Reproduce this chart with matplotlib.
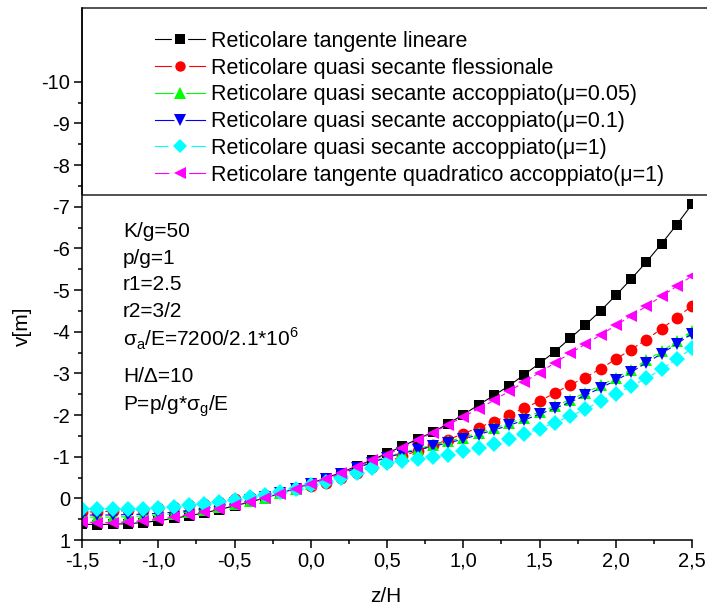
import matplotlib
matplotlib.use("Agg")
import matplotlib.pyplot as plt
from matplotlib.lines import Line2D
from matplotlib.patches import Rectangle
from matplotlib.legend_handler import HandlerTuple

plt.rcParams['font.family'] = ['Liberation Sans', 'DejaVu Sans']
plt.rcParams['axes.unicode_minus'] = False

# ascissa z/H (passo 0.1)
z = [-1.5, -1.4, -1.3, -1.2, -1.1, -1.0, -0.9, -0.8, -0.7, -0.6, -0.5,
     -0.4, -0.3, -0.2, -0.1, 0.0, 0.1, 0.2, 0.3, 0.4, 0.5,
     0.6, 0.7, 0.8, 0.9, 1.0, 1.1, 1.2, 1.3, 1.4, 1.5,
     1.6, 1.7, 1.8, 1.9, 2.0, 2.1, 2.2, 2.3, 2.4, 2.5]

tang_lineare = [0.62, 0.63, 0.62, 0.61, 0.58, 0.54, 0.48, 0.42, 0.35, 0.27, 0.18,
                0.09, -0.01, -0.12, -0.24, -0.36, -0.49, -0.62, -0.77, -0.92, -1.08,
                -1.25, -1.42, -1.59, -1.79, -2.01, -2.24, -2.47, -2.70, -2.97, -3.24,
                -3.52, -3.84, -4.16, -4.50, -4.87, -5.26, -5.67, -6.11, -6.57, -7.06]

sec_flessionale = [0.33, 0.32, 0.31, 0.29, 0.27, 0.24, 0.21, 0.17, 0.13, 0.08, 0.02,
                   -0.03, -0.08, -0.15, -0.22, -0.30, -0.38, -0.48, -0.61, -0.75, -0.87,
                   -1.01, -1.14, -1.27, -1.41, -1.55, -1.70, -1.84, -2.00, -2.17, -2.33,
                   -2.53, -2.72, -2.90, -3.11, -3.34, -3.57, -3.81, -4.07, -4.34, -4.62]

sec_acc_005 = [0.45, 0.45, 0.45, 0.44, 0.42, 0.40, 0.37, 0.32, 0.27, 0.21, 0.14,
               0.06, -0.02, -0.12, -0.22, -0.34, -0.46, -0.59, -0.73, -0.87, -1.00,
               -1.10, -1.19, -1.28, -1.37, -1.46, -1.57, -1.68, -1.80, -1.93, -2.07,
               -2.21, -2.37, -2.53, -2.71, -2.89, -3.09, -3.31, -3.53, -3.77, -4.02]

sec_acc_01 = [0.40, 0.40, 0.40, 0.39, 0.38, 0.36, 0.33, 0.29, 0.24, 0.18, 0.12,
              0.05, -0.03, -0.12, -0.22, -0.34, -0.46, -0.59, -0.72, -0.86, -0.98,
              -1.08, -1.16, -1.25, -1.33, -1.42, -1.53, -1.64, -1.75, -1.88, -2.02,
              -2.16, -2.31, -2.47, -2.65, -2.83, -3.03, -3.25, -3.47, -3.71, -3.95]

sec_acc_1 = [0.25, 0.26, 0.26, 0.26, 0.25, 0.23, 0.21, 0.17, 0.13, 0.08, 0.03,
             -0.03, -0.09, -0.16, -0.23, -0.31, -0.40, -0.49, -0.62, -0.74, -0.84,
             -0.89, -0.94, -0.99, -1.05, -1.13, -1.21, -1.31, -1.43, -1.55, -1.67,
             -1.82, -1.97, -2.14, -2.33, -2.51, -2.69, -2.88, -3.10, -3.34, -3.60]

tang_quadratico = [0.57, 0.58, 0.58, 0.57, 0.54, 0.50, 0.45, 0.39, 0.32, 0.25, 0.17,
                   0.08, -0.01, -0.11, -0.23, -0.35, -0.47, -0.60, -0.75, -0.91, -1.05,
                   -1.21, -1.39, -1.58, -1.76, -1.96, -2.15, -2.35, -2.57, -2.79, -3.02,
                   -3.25, -3.48, -3.70, -3.92, -4.15, -4.38, -4.61, -4.85, -5.09, -5.34]

labels = ['Reticolare tangente lineare',
          'Reticolare quasi secante flessionale',
          'Reticolare quasi secante accoppiato(μ=0.05)',
          'Reticolare quasi secante accoppiato(μ=0.1)',
          'Reticolare quasi secante accoppiato(μ=1)',
          'Reticolare tangente quadratico accoppiato(μ=1)']

xticks = [-1.5, -1.0, -0.5, 0.0, 0.5, 1.0, 1.5, 2.0, 2.5]
xticklabels = ['-1,5', '-1,0', '-0,5', '0,0', '0,5', '1,0', '1,5', '2,0', '2,5']
yticks = [1, 0, -1, -2, -3, -4, -5, -6, -7, -8, -9, -10]
yticklabels = ['1', '0', '-1', '-2', '-3', '-4', '-5', '-6', '-7', '-8', '-9', '-10']

info = ['K/g=50', 'p/g=1', 'r1=2.5', 'r2=3/2',
        r'σ$_\mathregular{a}$/E=7200/2.1*10$^\mathregular{6}$',
        'H/Δ=10', r'P=p/g*σ$_\mathregular{g}$/E']

W, H = 707, 609
fig = plt.figure(figsize=(W / 100, H / 100), dpi=100)
ax = fig.add_axes([82 / W, 1 - 540 / H, 610 / W, 532 / H])

series = [tang_lineare, sec_flessionale, sec_acc_005, sec_acc_01, sec_acc_1, tang_quadratico]
colors = ['#000000', '#ff0000', '#00ff00', '#0000ff', '#00ffff', '#ff00ff']
markers = ['s', 'o', '^', 'v', 'D', '<']
msizes = [7.5, 8.5, 9, 9, 8, 9]
styles = ['-', (0, (4, 3)), (0, (4, 3)), (0, (4, 3)), (0, (4, 3)), (0, (4, 3))]

handles = []
for s, c, m, ms, ls, lab in zip(series, colors, markers, msizes, styles, labels):
    ax.plot(z, s, color=c, marker=m, markersize=ms, linestyle=ls, linewidth=0.8,
            markeredgewidth=0)
    # in legenda: linea continua interrotta attorno al simbolo
    sfondo = Line2D([], [], color=c, linestyle='-', linewidth=0.8, marker=m,
                    markersize=ms + 1, markerfacecolor='white',
                    markeredgecolor='white', markeredgewidth=3)
    simbolo = Line2D([], [], color=c, linestyle='none', marker=m,
                     markersize=ms - 1, markeredgewidth=0)
    handles.append((sfondo, simbolo))

ax.set_xlim(-1.5, 2.5)
ax.set_ylim(1, -11.77)

ax.set_xticks(xticks)
ax.set_xticklabels(xticklabels)
ax.set_xticks([-1.25, -0.75, -0.25, 0.25, 0.75, 1.25, 1.75, 2.25], minor=True)
ax.set_yticks(yticks)
ax.set_yticklabels(yticklabels)
ax.set_yticks([0.5 - i for i in range(11)], minor=True)
ax.tick_params(which='both', direction='out', width=1.1, labelsize=14.5, colors='k')
ax.tick_params(which='major', length=5.5, pad=3)
ax.tick_params(which='minor', length=3)

for side in ['top', 'right']:
    ax.spines[side].set_visible(False)
for side in ['left', 'bottom']:
    ax.spines[side].set_linewidth(1.1)

fig.text(386 / W, 1 - 597 / H, 'z/H', ha='center', va='center', fontsize=15)
fig.text(22 / W, 1 - 326 / H, 'v[m]', ha='center', va='center', rotation=90, fontsize=15)

# riquadro della legenda
yb = (540 - 195) / 532
ax.add_patch(Rectangle((0, yb), 1.2, 1 - yb, transform=ax.transAxes, fill=False,
                       edgecolor='#222222', linewidth=1.1, clip_on=False))
ax.legend(handles, labels, loc='upper left', bbox_to_anchor=(155 / W, 1 - 31 / H),
          bbox_transform=fig.transFigure, frameon=False, fontsize=15.5,
          handlelength=2.3, handletextpad=0.3, labelspacing=0.265,
          borderpad=0, borderaxespad=0,
          handler_map={tuple: HandlerTuple(ndivide=1, pad=0)})

baselines = [236.7, 264, 290, 317, 345.7, 382, 410]
for t, b in zip(info, baselines):
    fig.text(123 / W, 1 - b / H, t, ha='left', va='baseline', fontsize=15)

fig.savefig('out.png', dpi=100)
